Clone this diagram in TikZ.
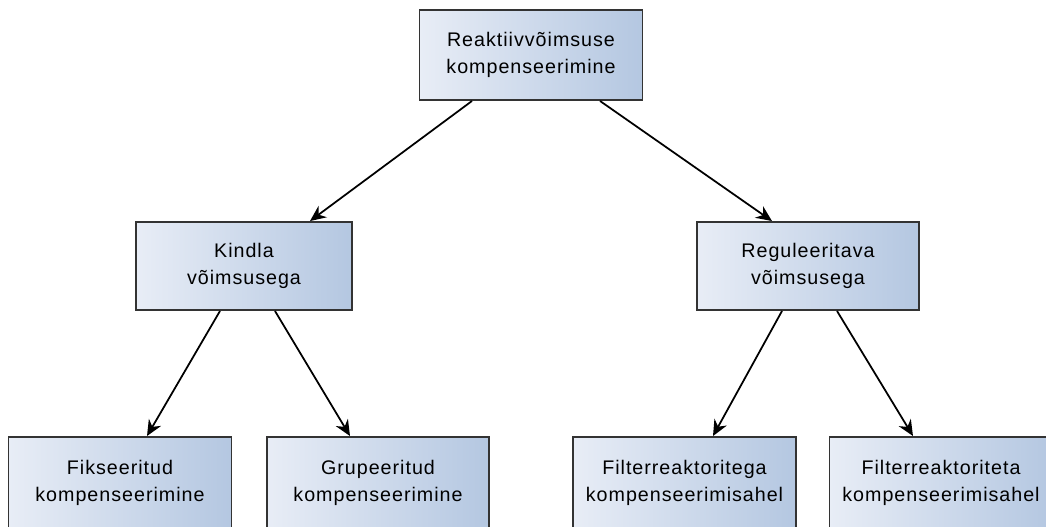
\documentclass[tikz,border=0pt]{standalone}
\usepackage{fontspec}
\setmainfont{Liberation Sans}[LetterSpace=5]
\usetikzlibrary{arrows.meta}
\definecolor{boxleft}{HTML}{E8EDF6}
\definecolor{boxright}{HTML}{B4C7E1}
\definecolor{boxline}{HTML}{333333}
\begin{document}
\begin{tikzpicture}[
        box/.style={draw=boxline, line width=1.1pt, left color=boxleft, right color=boxright,
            minimum width=4.46cm, minimum height=1.84cm, align=center,
            font=\fontsize{11.2pt}{15.4pt}\selectfont, inner sep=0pt},
        arr/.style={line width=1pt, -{Stealth[length=9pt,width=8pt]}}
    ]
            \useasboundingbox (0, 0) rectangle (20.92, -10.54);

            \node[box, minimum height=1.8cm] (R) at (10.62, -1.10) {Reaktiivvõimsuse\\kompenseerimine};

            \node[box, minimum width=4.32cm, minimum height=1.76cm] (K) at (4.88, -5.32) {Kindla\\võimsusega};
            \node[box, minimum width=4.44cm, minimum height=1.76cm] (V) at (16.16, -5.32) {Reguleeritava\\võimsusega};

            \node[box] (F) at (2.40, -9.66) {Fikseeritud\\kompenseerimine};
            \node[box, minimum width=4.44cm] (G) at (7.56, -9.66) {Grupeeritud\\kompenseerimine};
            \node[box] (FT) at (13.69, -9.66) {Filterreaktoritega\\kompenseerimisahel};
            \node[box] (FN) at (18.82, -9.66) {Filterreaktoriteta\\kompenseerimisahel};

            \draw[arr] ([xshift=-1.18cm]R.south) -- ([xshift=1.32cm]K.north);
            \draw[arr] ([xshift=1.38cm]R.south) -- ([xshift=-0.72cm]V.north);

            \draw[arr] ([xshift=-0.48cm]K.south) -- ([xshift=0.54cm]F.north);
            \draw[arr] ([xshift=0.62cm]K.south) -- ([xshift=-0.56cm]G.north);

            \draw[arr] ([xshift=-0.52cm]V.south) -- ([xshift=0.57cm]FT.north);
            \draw[arr] ([xshift=0.58cm]V.south) -- ([xshift=-0.56cm]FN.north);
        \end{tikzpicture}
\end{document}
